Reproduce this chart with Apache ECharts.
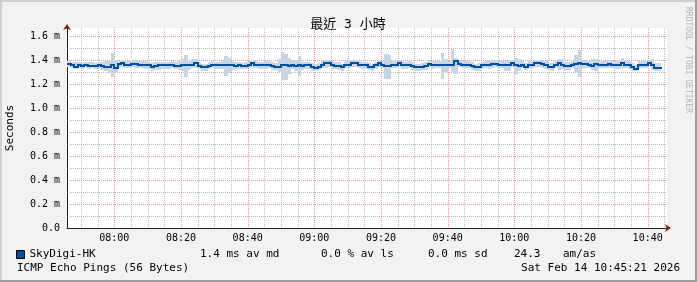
<!DOCTYPE html>
<html><head><meta charset="utf-8">
<script src="https://cdn.jsdelivr.net/npm/echarts@6/dist/echarts.min.js"></script>
<style>html,body{margin:0;padding:0;background:#f2f2f2}#c{width:697px;height:282px}</style>
</head><body><div id="c"></div>
<script>
// x axis in minutes of day: window 07:45:48 .. 10:45:48, samples on whole minutes
const axisStart = 465.8;
const axisEnd = 645.8;
const yMax = 1.6667;
const dataStartMinute = 465;
const titleText = '最近 3 小時';
const seriesName = 'SkyDigi-HK';
const yTickValues = [0.2, 0.4, 0.6, 0.8, 1.0, 1.2, 1.4, 1.6];
const yLabelValues = [0, 0.2, 0.4, 0.6, 0.8, 1.0, 1.2, 1.4, 1.6];
const yMinorValues = [0.1, 0.3, 0.5, 0.7, 0.9, 1.1, 1.3, 1.5];
const xTickLabels = ['08:00','08:20','08:40','09:00','09:20','09:40','10:00','10:20','10:40'];
const xMinorLabels = ['07:50','07:55','08:05','08:10','08:15','08:25','08:30','08:35','08:45','08:50','08:55',
  '09:05','09:10','09:15','09:25','09:30','09:35','09:45','09:50','09:55','10:05','10:10','10:15',
  '10:25','10:30','10:35','10:45'];
const legendStats = ['1.4 ms av md', '0.0 % av ls', '0.0 ms sd', '24.3', 'am/as'];
const footLeft = 'ICMP Echo Pings (56 Bytes)';
const footRight = 'Sat Feb 14 10:45:21 2026';

// median RTT (ms), one per minute starting 07:45
const median = [
1.367,1.367,1.356,1.345,1.356,1.347,1.356,1.353,1.353,1.347,1.356,
1.347,1.342,1.342,1.356,1.333,1.367,1.375,1.361,1.361,1.367,
1.367,1.358,1.358,1.358,1.358,1.339,1.350,1.356,1.356,1.356,
1.356,1.361,1.353,1.353,1.361,1.356,1.361,1.361,1.372,1.350,
1.339,1.339,1.350,1.361,1.356,1.356,1.356,1.361,1.361,1.356,
1.350,1.356,1.350,1.350,1.361,1.372,1.361,1.356,1.356,1.356,
1.361,1.350,1.344,1.344,1.356,1.356,1.350,1.356,1.350,1.361,
1.350,1.356,1.356,1.339,1.333,1.344,1.361,1.372,1.372,1.356,
1.350,1.350,1.339,1.361,1.361,1.372,1.372,1.361,1.356,1.356,
1.344,1.339,1.356,1.372,1.361,1.350,1.350,1.361,1.361,1.372,
1.356,1.356,1.361,1.350,1.339,1.339,1.344,1.350,1.367,1.356,
1.361,1.361,1.356,1.356,1.361,1.361,1.389,1.367,1.361,1.361,
1.361,1.350,1.339,1.339,1.356,1.361,1.356,1.367,1.367,1.361,
1.361,1.356,1.356,1.372,1.356,1.350,1.361,1.344,1.361,1.361,
1.372,1.372,1.367,1.356,1.344,1.344,1.361,1.372,1.356,1.350,
1.350,1.361,1.367,1.372,1.367,1.367,1.361,1.350,1.367,1.361,
1.361,1.361,1.367,1.361,1.356,1.356,1.378,1.361,1.361,1.344,
1.328,1.361,1.361,1.361,1.372,1.361,1.333,1.333
];
// smoke: lowest and highest ping per minute (ms)
const smokeLo = [
1.340,1.340,1.332,1.325,1.330,1.326,1.330,1.328,1.330,1.325,1.332,
1.320,1.308,1.290,1.256,1.300,1.335,1.345,1.335,1.332,1.338,
1.335,1.330,1.330,1.328,1.326,1.312,1.315,1.320,1.325,1.328,
1.328,1.332,1.325,1.320,1.305,1.256,1.320,1.332,1.335,1.322,
1.312,1.312,1.322,1.332,1.328,1.328,1.326,1.270,1.290,1.320,
1.322,1.328,1.322,1.324,1.332,1.340,1.332,1.328,1.328,1.326,
1.332,1.320,1.316,1.300,1.230,1.230,1.280,1.326,1.310,1.270,
1.320,1.326,1.326,1.312,1.308,1.316,1.330,1.335,1.338,1.328,
1.322,1.320,1.310,1.330,1.332,1.342,1.342,1.330,1.326,1.328,
1.316,1.310,1.326,1.340,1.330,1.240,1.240,1.330,1.330,1.340,
1.326,1.326,1.332,1.320,1.310,1.310,1.316,1.320,1.338,1.328,
1.332,1.330,1.240,1.300,1.330,1.300,1.280,1.338,1.330,1.332,
1.332,1.320,1.308,1.310,1.326,1.332,1.326,1.335,1.338,1.332,
1.330,1.310,1.305,1.340,1.280,1.305,1.330,1.315,1.330,1.332,
1.340,1.342,1.336,1.326,1.314,1.312,1.330,1.320,1.325,1.320,
1.320,1.330,1.300,1.256,1.335,1.335,1.330,1.320,1.310,1.330,
1.330,1.330,1.335,1.330,1.325,1.325,1.335,1.330,1.328,1.312,
1.305,1.330,1.330,1.330,1.340,1.320,1.310,1.310
];
const smokeHi = [
1.390,1.390,1.382,1.380,1.382,1.378,1.385,1.382,1.380,1.378,1.384,
1.380,1.388,1.390,1.456,1.402,1.395,1.402,1.390,1.395,1.398,
1.400,1.395,1.390,1.388,1.385,1.378,1.382,1.385,1.384,1.382,
1.382,1.388,1.380,1.390,1.405,1.440,1.395,1.405,1.410,1.382,
1.370,1.370,1.380,1.390,1.385,1.382,1.388,1.430,1.420,1.395,
1.380,1.384,1.378,1.382,1.390,1.402,1.390,1.385,1.382,1.388,
1.390,1.382,1.375,1.405,1.470,1.450,1.420,1.388,1.400,1.430,
1.382,1.385,1.385,1.372,1.365,1.375,1.395,1.402,1.400,1.388,
1.382,1.380,1.370,1.395,1.398,1.404,1.404,1.392,1.386,1.384,
1.375,1.370,1.385,1.402,1.395,1.450,1.440,1.395,1.390,1.402,
1.388,1.385,1.392,1.382,1.370,1.368,1.375,1.382,1.398,1.388,
1.392,1.395,1.460,1.410,1.392,1.490,1.420,1.398,1.392,1.390,
1.392,1.382,1.370,1.372,1.385,1.392,1.388,1.398,1.396,1.390,
1.392,1.395,1.400,1.402,1.420,1.410,1.392,1.375,1.390,1.392,
1.402,1.400,1.396,1.388,1.375,1.372,1.392,1.410,1.405,1.382,
1.382,1.395,1.440,1.480,1.400,1.398,1.392,1.410,1.410,1.395,
1.392,1.390,1.398,1.392,1.388,1.388,1.420,1.395,1.392,1.375,
1.362,1.392,1.392,1.392,1.402,1.405,1.372,1.372
];

function toMinute(s) { const p = s.split(':'); return (+p[0]) * 60 + (+p[1]); }
function fmtTime(v) {
  const h = Math.floor(v / 60), m = Math.round(v % 60);
  return String(h).padStart(2, '0') + ':' + String(m).padStart(2, '0');
}
const xMajor = xTickLabels.map(toMinute);
const xMinor = xMinorLabels.map(toMinute);

// [minute, value, next value] so each step can be drawn with a crisp riser
const medianData = median.map((v, i) => [dataStartMinute + i, v, i + 1 < median.length ? median[i + 1] : v]);
const smokeData = smokeLo.map((lo, i) => [dataStartMinute + i, lo, smokeHi[i]]);

const MONO = 'DejaVu Sans Mono';
const GRID = 'rgba(143,143,143,0.6)';
const MGRID = 'rgba(222,79,79,0.6)';
const LINE = '#00509e';

// grid lines drawn through the axes' scales
function vGridSeries(values, color) {
  return { type: 'custom', silent: true, z: 1, clip: true,
    data: values.map(v => [v, 0]), encode: { x: 0, y: 1 },
    renderItem: (params, api) => {
      const pb = api.coord([api.value(0), 0]);
      const pt = api.coord([api.value(0), yMax]);
      const x = Math.round(pb[0]) + 0.5;
      return { type: 'line', shape: { x1: x, y1: Math.round(pt[1]), x2: x, y2: Math.round(pb[1]) },
        style: { stroke: color, lineWidth: 1, lineDash: [1, 1] } };
    } };
}
function hGridSeries(values, color) {
  return { type: 'custom', silent: true, z: 1, clip: true,
    data: values.map(v => [axisStart, v]), encode: { x: 0, y: 1 },
    renderItem: (params, api) => {
      const pl = api.coord([axisStart, api.value(1)]);
      const pr = api.coord([axisEnd, api.value(1)]);
      const y = Math.round(pl[1]) + 0.5;
      return { type: 'line', shape: { x1: Math.round(pl[0]), y1: y, x2: Math.round(pr[0]), y2: y },
        style: { stroke: color, lineWidth: 1, lineDash: [1, 1] } };
    } };
}

const chart = echarts.init(document.getElementById('c'));
const statX = [200, 321, 428, 514, 563];
chart.setOption({
  animation: false,
  backgroundColor: '#f2f2f2',
  title: {
    text: titleText, left: 343, top: 13, textAlign: 'center',
    textStyle: { fontFamily: MONO + ', Noto Sans CJK TC', fontSize: 13, fontWeight: 'normal', color: '#000' }
  },
  legend: {
    data: [seriesName], left: 16, top: 249, padding: 0, icon: 'rect', itemWidth: 8, itemHeight: 8,
    itemStyle: { color: LINE, borderColor: '#000', borderWidth: 1 },
    textStyle: { fontFamily: MONO, fontSize: 11, color: '#000' },
    selectedMode: false
  },
  grid: { left: 67, top: 28, width: 600, height: 200, show: true, backgroundColor: '#fff', borderWidth: 0 },
  xAxis: [{
    type: 'value', min: axisStart, max: axisEnd,
    axisLine: { show: true, lineStyle: { color: '#1f1f1f', width: 1 } },
    axisTick: { show: false },
    axisLabel: { fontFamily: MONO, fontSize: 10, color: '#000', margin: 5, customValues: xMajor, formatter: v => fmtTime(v) },
    splitLine: { show: false }
  }, {
    type: 'value', min: axisStart, max: axisEnd, position: 'bottom',
    axisLine: { show: true, symbol: ['none', 'arrow'], symbolSize: [6, 6], symbolOffset: [0, 4],
      lineStyle: { color: '#801f1f', width: 0 } },
    axisTick: { show: false }, axisLabel: { show: false }, splitLine: { show: false }
  }],
  yAxis: [{
    type: 'value', min: 0, max: yMax,
    axisLine: { show: true, lineStyle: { color: '#1f1f1f', width: 1 } },
    axisTick: { show: false },
    axisLabel: {
      fontFamily: MONO, fontSize: 10, color: '#000', margin: 7, customValues: yLabelValues,
      formatter: v => v === 0 ? '0.0' : v.toFixed(1) + ' m'
    },
    splitLine: { show: false }
  }, {
    type: 'value', min: 0, max: yMax, position: 'left',
    axisLine: { show: true, symbol: ['none', 'arrow'], symbolSize: [6, 6], symbolOffset: [0, 4],
      lineStyle: { color: '#801f1f', width: 0 } },
    axisTick: { show: false }, axisLabel: { show: false }, splitLine: { show: false }
  }],
  series: [
    vGridSeries(xMinor, GRID),
    hGridSeries(yMinorValues, GRID),
    vGridSeries(xMajor, MGRID),
    hGridSeries(yTickValues, MGRID),
    { name: 'smoke', type: 'custom', data: smokeData, encode: { x: 0, y: [1, 2] }, silent: true, z: 2, clip: true,
      renderItem: (params, api) => {
        const t = api.value(0);
        const p0 = api.coord([t, api.value(2)]);
        const p1 = api.coord([t + 1, api.value(1)]);
        const x0 = Math.round(p0[0]), x1 = Math.round(p1[0]);
        const y0 = Math.round(p0[1]), y1 = Math.round(p1[1]);
        return { type: 'rect', shape: { x: x0, y: y0, width: x1 - x0, height: y1 - y0 }, style: { fill: '#c8d5e2' } };
      } },
    { name: seriesName, type: 'custom', data: medianData, encode: { x: 0, y: 1 }, z: 5, clip: true,
      itemStyle: { color: LINE },
      renderItem: (params, api) => {
        const t = api.value(0);
        const a = api.coord([t, api.value(1)]);
        const b = api.coord([t + 1, api.value(1)]);
        const c = api.coord([t + 1, api.value(2)]);
        const x0 = Math.round(a[0]), x1 = Math.round(b[0]);
        const y0 = Math.round(a[1]), y2 = Math.round(c[1]);
        const children = [{ type: 'rect', shape: { x: x0, y: y0 - 1, width: x1 - x0 + 1, height: 2 }, style: { fill: LINE } }];
        if (y2 !== y0) {
          const top = Math.min(y0, y2) - 1, bottom = Math.max(y0, y2) + 1;
          children.push({ type: 'rect', shape: { x: x1 - 1, y: top, width: 2, height: bottom - top }, style: { fill: LINE } });
        }
        return { type: 'group', children };
      } }
  ],
  graphic: [
    { type: 'rect', left: 0, top: 0, shape: { width: 697, height: 2 }, style: { fill: '#cfcfcf' }, silent: true },
    { type: 'rect', left: 0, top: 0, shape: { width: 2, height: 282 }, style: { fill: '#cfcfcf' }, silent: true },
    { type: 'rect', left: 0, top: 280, shape: { width: 697, height: 2 }, style: { fill: '#9e9e9e' }, silent: true },
    { type: 'rect', left: 695, top: 0, shape: { width: 2, height: 282 }, style: { fill: '#9e9e9e' }, silent: true },
    { type: 'text', x: 10, y: 128, rotation: Math.PI / 2,
      style: { text: 'Seconds', font: '11px ' + MONO, fill: '#000', textAlign: 'center', textVerticalAlign: 'middle' } },
    { type: 'text', x: 688, y: 60, rotation: -Math.PI / 2,
      style: { text: 'RRDTOOL / TOBI OETIKER', font: '8px ' + MONO, fill: '#b4b4b4', textAlign: 'center', textVerticalAlign: 'middle' } },
    ...legendStats.map((s, i) => ({ type: 'text', x: statX[i], y: 254,
      style: { text: s, font: '11px ' + MONO, fill: '#000', textVerticalAlign: 'middle' } })),
    { type: 'text', x: 17, y: 268, style: { text: footLeft, font: '11px ' + MONO, fill: '#000', textVerticalAlign: 'middle' } },
    { type: 'text', x: 680, y: 268, style: { text: footRight, font: '11px ' + MONO, fill: '#000', textAlign: 'right', textVerticalAlign: 'middle' } }
  ]
});
</script></body></html>
